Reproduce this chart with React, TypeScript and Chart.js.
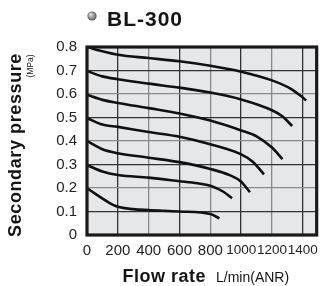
import React, { useEffect, useRef } from "react";
import { Chart, registerables } from "chart.js";

Chart.register(...registerables);

// Flow rate (L/min ANR) and secondary pressure (MPa) for each set pressure curve
const flow08 = [0, 100, 200, 400, 600, 800, 1000, 1200, 1320, 1390, 1422];
const pres08 = [0.8, 0.782, 0.767, 0.753, 0.739, 0.72, 0.695, 0.658, 0.623, 0.59, 0.572];

const flow07 = [0, 100, 200, 400, 600, 800, 1000, 1200, 1265, 1331];
const pres07 = [0.698, 0.675, 0.663, 0.644, 0.627, 0.606, 0.577, 0.531, 0.506, 0.464];

const flow06 = [0, 100, 200, 400, 600, 800, 1000, 1100, 1200, 1268];
const pres06 = [0.597, 0.575, 0.562, 0.54, 0.517, 0.487, 0.445, 0.42, 0.372, 0.323];

const flow05 = [0, 100, 200, 400, 600, 800, 1000, 1075, 1148];
const pres05 = [0.498, 0.47, 0.46, 0.438, 0.418, 0.386, 0.343, 0.312, 0.258];

const flow04 = [0, 100, 200, 400, 600, 800, 925, 1000, 1057];
const pres04 = [0.4, 0.365, 0.348, 0.329, 0.31, 0.281, 0.255, 0.227, 0.182];

const flow03 = [0, 100, 200, 400, 600, 715, 800, 885, 941];
const pres03 = [0.298, 0.27, 0.255, 0.244, 0.229, 0.22, 0.21, 0.184, 0.156];

const flow02 = [0, 150, 200, 300, 400, 600, 800, 859];
const pres02 = [0.199, 0.135, 0.12, 0.11, 0.106, 0.1, 0.089, 0.071];

const curves = [
  [flow08, pres08],
  [flow07, pres07],
  [flow06, pres06],
  [flow05, pres05],
  [flow04, pres04],
  [flow03, pres03],
  [flow02, pres02],
];

const xMin = 0;
const xMax = 1490;
const xStep = 200;
const yMin = 0;
const yMax = 0.8;
const yStep = 0.1;

const chartTitle = "BL-300";
const yTitle = "Secondary pressure";
const yUnit = "(MPa)";
const xTitle = "Flow rate";
const xUnit = "L/min(ANR)";

const FONT = '"Liberation Sans", Arial, Helvetica, sans-serif';

const decorPlugin = {
  id: "decor",
  beforeDraw(chart: any) {
    const { ctx, chartArea: a } = chart;
    ctx.save();
    ctx.fillStyle = "#ffffff";
    ctx.fillRect(0, 0, chart.width, chart.height);
    ctx.fillStyle = "#e6e7e8";
    ctx.fillRect(a.left, a.top, a.right - a.left, a.bottom - a.top);
    ctx.restore();
  },
  afterDraw(chart: any) {
    const { ctx, chartArea: a } = chart;
    ctx.save();
    // frame
    ctx.strokeStyle = "#1a1a1a";
    ctx.lineWidth = 3.2;
    ctx.strokeRect(a.left, a.top, a.right - a.left, a.bottom - a.top);

    // title bullet
    const g = ctx.createRadialGradient(90.5, 14.5, 0.5, 92, 16, 5);
    g.addColorStop(0, "#e0e0e0");
    g.addColorStop(0.6, "#8a8a8a");
    g.addColorStop(1, "#4a4a4a");
    ctx.fillStyle = g;
    ctx.beginPath();
    ctx.arc(92, 16, 4.6, 0, Math.PI * 2);
    ctx.fill();

    ctx.fillStyle = "#151515";
    ctx.textBaseline = "alphabetic";
    ctx.textAlign = "left";
    (ctx as any).letterSpacing = "1px";
    ctx.font = `bold 21px ${FONT}`;
    ctx.fillText(chartTitle, 107, 26);

    // x title
    (ctx as any).letterSpacing = "0.5px";
    ctx.font = `bold 18px ${FONT}`;
    ctx.fillText(xTitle, 122.5, 281.5);
    (ctx as any).letterSpacing = "0px";
    ctx.font = `14px ${FONT}`;
    ctx.fillText(xUnit, 216, 281.5);

    // y title
    ctx.save();
    ctx.translate(21, 145);
    ctx.rotate(-Math.PI / 2);
    ctx.textAlign = "center";
    (ctx as any).letterSpacing = "0.6px";
    ctx.font = `bold 18px ${FONT}`;
    ctx.fillText(yTitle, 0, 0);
    ctx.restore();

    ctx.save();
    ctx.translate(33, 66);
    ctx.rotate(-Math.PI / 2);
    ctx.textAlign = "center";
    (ctx as any).letterSpacing = "0px";
    ctx.font = `8.5px ${FONT}`;
    ctx.fillText(yUnit, 0, 0);
    ctx.restore();

    ctx.restore();
  },
};

const gridColor = (c: any) => (c.index % 2 === 1 ? "#333333" : "#8a8a8a");

export default function App() {
  const ref = useRef<HTMLCanvasElement | null>(null);

  useEffect(() => {
    if (!ref.current) return;
    const datasets = curves.map(([xs, ys]) => ({
      data: xs.map((x, i) => ({ x, y: ys[i] })),
      borderColor: "#111111",
      borderWidth: 2.6,
      pointRadius: 0,
      fill: false,
      cubicInterpolationMode: "monotone" as const,
    }));
    const chart = new Chart(ref.current, {
      type: "line",
      data: { datasets },
      plugins: [decorPlugin],
      options: {
        animation: false,
        responsive: false,
        devicePixelRatio: 1,
        layout: { padding: { top: 47, right: 3, left: 0, bottom: 0 } },
        plugins: {
          legend: { display: false },
          tooltip: { enabled: false },
          title: { display: false },
        },
        scales: {
          x: {
            type: "linear",
            min: xMin,
            max: xMax,
            ticks: {
              stepSize: xStep,
              includeBounds: false,
              color: "#222222",
              font: (c: any) => ({
                family: FONT,
                size: c.tick && c.tick.value >= 1000 ? 13.5 : 15,
              }),
              padding: 7,
              maxRotation: 0,
              autoSkip: false,
              callback: (v: any) => String(Math.round(Number(v))),
            },
            grid: { color: gridColor, lineWidth: 1.3, drawTicks: false },
            border: { display: false },
            afterFit: (s: any) => {
              s.height = 51;
            },
          },
          y: {
            type: "linear",
            min: yMin,
            max: yMax,
            ticks: {
              stepSize: yStep,
              color: "#222222",
              font: { family: FONT, size: 15 },
              padding: 10,
              callback: (v: any) => (Number(v) === 0 ? "0" : Number(v).toFixed(1)),
            },
            grid: { color: gridColor, lineWidth: 1.3, drawTicks: false },
            border: { display: false },
            afterFit: (s: any) => {
              s.width = 87;
            },
          },
        },
      } as any,
    });
    return () => chart.destroy();
  }, []);

  return (
    <div style={{ position: "fixed", left: 0, top: 0, width: 325, height: 286, background: "#fff" }}>
      <canvas ref={ref} width={325} height={286} style={{ display: "block" }} />
    </div>
  );
}
